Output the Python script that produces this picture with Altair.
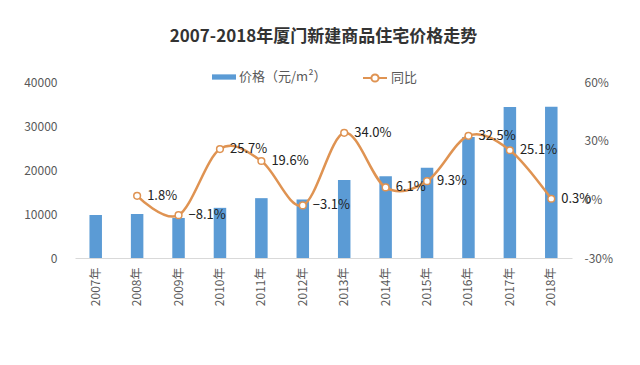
import altair as alt
import pandas as pd

years = ["2007年", "2008年", "2009年", "2010年", "2011年", "2012年",
         "2013年", "2014年", "2015年", "2016年", "2017年", "2018年"]
price = [9800, 10000, 9100, 11400, 13600, 13300, 17700, 18600, 20500, 27500, 34300, 34400]
yoy = [None, 1.8, -8.1, 25.7, 19.6, -3.1, 34.0, 6.1, 9.3, 32.5, 25.1, 0.3]

BLUE = "#5B9BD5"
ORANGE = "#DF9352"
FONT = "Noto Sans CJK SC"

df = pd.DataFrame({"year": years, "price": price, "yoy": yoy})

x = alt.X("year:N", sort=years, title=None,
          scale=alt.Scale(paddingInner=0.7, paddingOuter=0.35),
          axis=alt.Axis(labelAngle=-90, ticks=False, domainColor="#D9D9D9",
                        labelPadding=9, labelFontSize=12, labelColor="#595959",
                        labelFont=FONT))

bars = alt.Chart(df).transform_calculate(s1="'价格（元/m²）'").mark_bar(width=12.5).encode(
    x=x,
    y=alt.Y("price:Q", title=None,
            scale=alt.Scale(domain=[0, 40000]),
            axis=alt.Axis(values=[0, 10000, 20000, 30000, 40000], format="d",
                          grid=False, ticks=False, domain=False, labelPadding=18,
                          labelFontSize=12, labelColor="#595959", labelFont=FONT)),
    fill=alt.Fill("s1:N",
                  scale=alt.Scale(range=[BLUE]),
                  legend=alt.Legend(title=None, orient="none", legendX=137, legendY=-17,
                                    symbolType="M-1,-0.22H1V0.22H-1Z", symbolSize=576,
                                    symbolStrokeWidth=0, labelFontSize=13, labelOffset=3,
                                    labelColor="#595959", labelFont=FONT, padding=0)),
)

ybase = alt.Y("yoy:Q", title=None,
              scale=alt.Scale(domain=[-30, 60]),
              axis=alt.Axis(orient="right", values=[-30, 0, 30, 60],
                            labelExpr="datum.value + '%'",
                            grid=False, ticks=False, domain=False, labelPadding=12,
                            labelFontSize=12, labelColor="#595959", labelFont=FONT))

linebase = alt.Chart(df).transform_filter("datum.yoy != null")

line = linebase.transform_calculate(s2="'同比'").mark_line(interpolate="cardinal", strokeWidth=2.5).encode(
    x=x, y=ybase,
    stroke=alt.Stroke("s2:N", scale=alt.Scale(range=[ORANGE]),
                      legend=alt.Legend(title=None, orient="none", legendX=287, legendY=-17,
                                        symbolType="M-1,0H-0.3M0.3,0H1M-0.3,0A0.3,0.3,0,1,0,0.3,0A0.3,0.3,0,1,0,-0.3,0",
                                        symbolSize=576, symbolStrokeWidth=2, labelOffset=3,
                                        symbolFillColor="white", labelFontSize=13,
                                        labelColor="#595959", labelFont=FONT, padding=0)),
)

pts = linebase.mark_point(filled=True, fill="white", stroke=ORANGE, strokeWidth=1.5,
                          size=45, opacity=1).encode(x=x, y=ybase)

labels = linebase.transform_calculate(
    lab="format(datum.yoy, '.1f') + '%'"
).mark_text(align="left", baseline="middle", dx=10, fontSize=13, font=FONT,
            color="#222222").encode(x=x, y=ybase, text="lab:N")

right = alt.layer(line, pts, labels)

chart = alt.layer(bars, right).resolve_scale(y="independent").properties(
    width=497, height=176,
    autosize=alt.AutoSizeParams(type="none"),
    padding={"left": 67, "top": 74, "right": 60, "bottom": 99},
    title=alt.TitleParams("2007-2018年厦门新建商品住宅价格走势", fontSize=17,
                          fontWeight="bold", font=FONT, color="#333333",
                          anchor="middle", frame="group", baseline="middle", offset=11),
).configure_view(stroke=None)

chart.save("out.html", embed_options={"renderer": "svg", "actions": False})
